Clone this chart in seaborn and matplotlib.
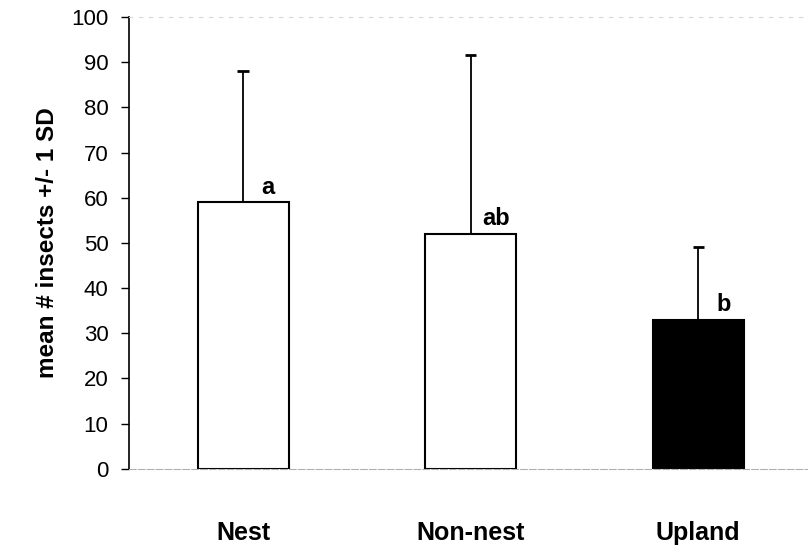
import numpy as np
import pandas as pd
import matplotlib
matplotlib.use("Agg")
import matplotlib.pyplot as plt
import seaborn as sns

# Values
habitat = ["Nest", "Non-nest", "Upland"]
mean_insects = [59, 52, 33]
sd_insects = [29, 39.5, 16]
letters = ["a", "ab", "b"]
bar_colors = ["white", "white", "black"]

df = pd.DataFrame({"habitat": habitat, "mean": mean_insects, "sd": sd_insects})

sns.set_style("white")
plt.rcParams["font.family"] = ["Liberation Sans", "DejaVu Sans"]
plt.rcParams["text.color"] = "black"
plt.rcParams["axes.labelcolor"] = "black"
plt.rcParams["xtick.color"] = "black"
plt.rcParams["ytick.color"] = "black"

fig = plt.figure(figsize=(8.08, 5.49), dpi=100)
ax = fig.add_axes([0.16, 0.146, 0.845, 0.823])

sns.barplot(data=df, x="habitat", y="mean", hue="habitat", palette=bar_colors,
            edgecolor="black", linewidth=1.5, width=0.4, errorbar=None,
            legend=False, ax=ax)

# upper SD only (stem + cap)
xpos = np.arange(len(df))
top = df["mean"] + df["sd"]
ax.vlines(xpos, df["mean"], top, color="black", linewidth=1.3)
ax.hlines(top, xpos - 0.025, xpos + 0.025, color="black", linewidth=2)

# significance letters
for i, row in df.iterrows():
    ax.text(i + 0.11, row["mean"] + 0.8, letters[i], ha="center", va="bottom",
            fontsize=17, fontweight="bold")

ax.set_xlim(-0.5, 2.5)
ax.set_ylim(0, 100)
ax.set_yticks(range(0, 101, 10))
ax.set_xlabel("")
ax.set_ylabel("mean # insects +/- 1 SD", fontsize=17.5, fontweight="bold", labelpad=9)
ax.tick_params(axis="y", which="both", left=True, length=6, width=1,
               direction="out", labelsize=16, pad=9)
ax.tick_params(axis="x", bottom=False, labelsize=18, pad=34)
for lab in ax.get_xticklabels():
    lab.set_fontweight("bold")

ax.spines["left"].set_color("black")
ax.spines["left"].set_linewidth(1.2)
ax.spines["right"].set_visible(False)
ax.spines["bottom"].set_color("#b0b0b0")
ax.spines["bottom"].set_linestyle((0, (6, 2)))
ax.spines["top"].set_color("#d8d8d8")
ax.spines["top"].set_linestyle((0, (3, 6)))
ax.spines["top"].set_linewidth(0.8)

fig.savefig("out.png", dpi=100)
